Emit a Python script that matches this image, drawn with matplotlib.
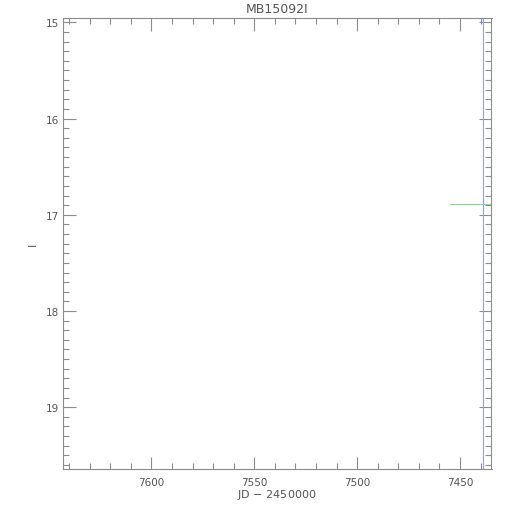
import matplotlib
matplotlib.use("Agg")
import matplotlib.pyplot as plt
from matplotlib.ticker import MultipleLocator

# data
title = "MB15092I"
xlim = (7643.0, 7434.7)
ylim = (19.645, 14.955)
marker_jd = [7438.7]          # vertical blue line
base_jd = [7455.0, 7434.7]    # horizontal green segment
base_mag = [16.883, 16.883]

gray = "#8c8c8c"
tcol = "#555555"

fig = plt.figure(figsize=(5.1, 5.1), dpi=100)
ax = fig.add_axes([63 / 510, 1 - 470.3 / 510, (491.5 - 63) / 510, (470.3 - 19) / 510])

for x in marker_jd:
    ax.axvline(x, color="#9999ff", lw=0.8)
ax.plot(base_jd, base_mag, color="#88dd88", lw=0.8)

ax.set_xlim(*xlim)
ax.set_ylim(*ylim)

ax.xaxis.set_major_locator(MultipleLocator(50))
ax.xaxis.set_minor_locator(MultipleLocator(10))
ax.yaxis.set_major_locator(MultipleLocator(1))
ax.yaxis.set_minor_locator(MultipleLocator(0.1))

ax.tick_params(which="both", direction="in", top=True, right=True,
               color=gray, labelcolor=tcol, labelsize=7.5, width=0.8)
ax.tick_params(which="major", length=9)
ax.tick_params(which="minor", length=4.5)
ax.tick_params(axis="x", which="major", pad=5.5)
ax.tick_params(axis="y", which="major", pad=3)
for s in ax.spines.values():
    s.set_color(gray)
    s.set_linewidth(0.8)

ax.set_title(title, color=tcol, fontsize=9, pad=4)
ax.set_xlabel("JD $-$ 2450000", color=tcol, fontsize=8)
ax.set_ylabel("I", color=tcol, fontsize=8)
ax.xaxis.set_label_coords(0.5, -25 / 451, transform=ax.transAxes)
ax.xaxis.label.set_va("center")
ax.yaxis.set_label_coords(-30 / 428.5, 0.5, transform=ax.transAxes)
ax.yaxis.label.set_va("center")

fig.savefig("out.png", dpi=100)
